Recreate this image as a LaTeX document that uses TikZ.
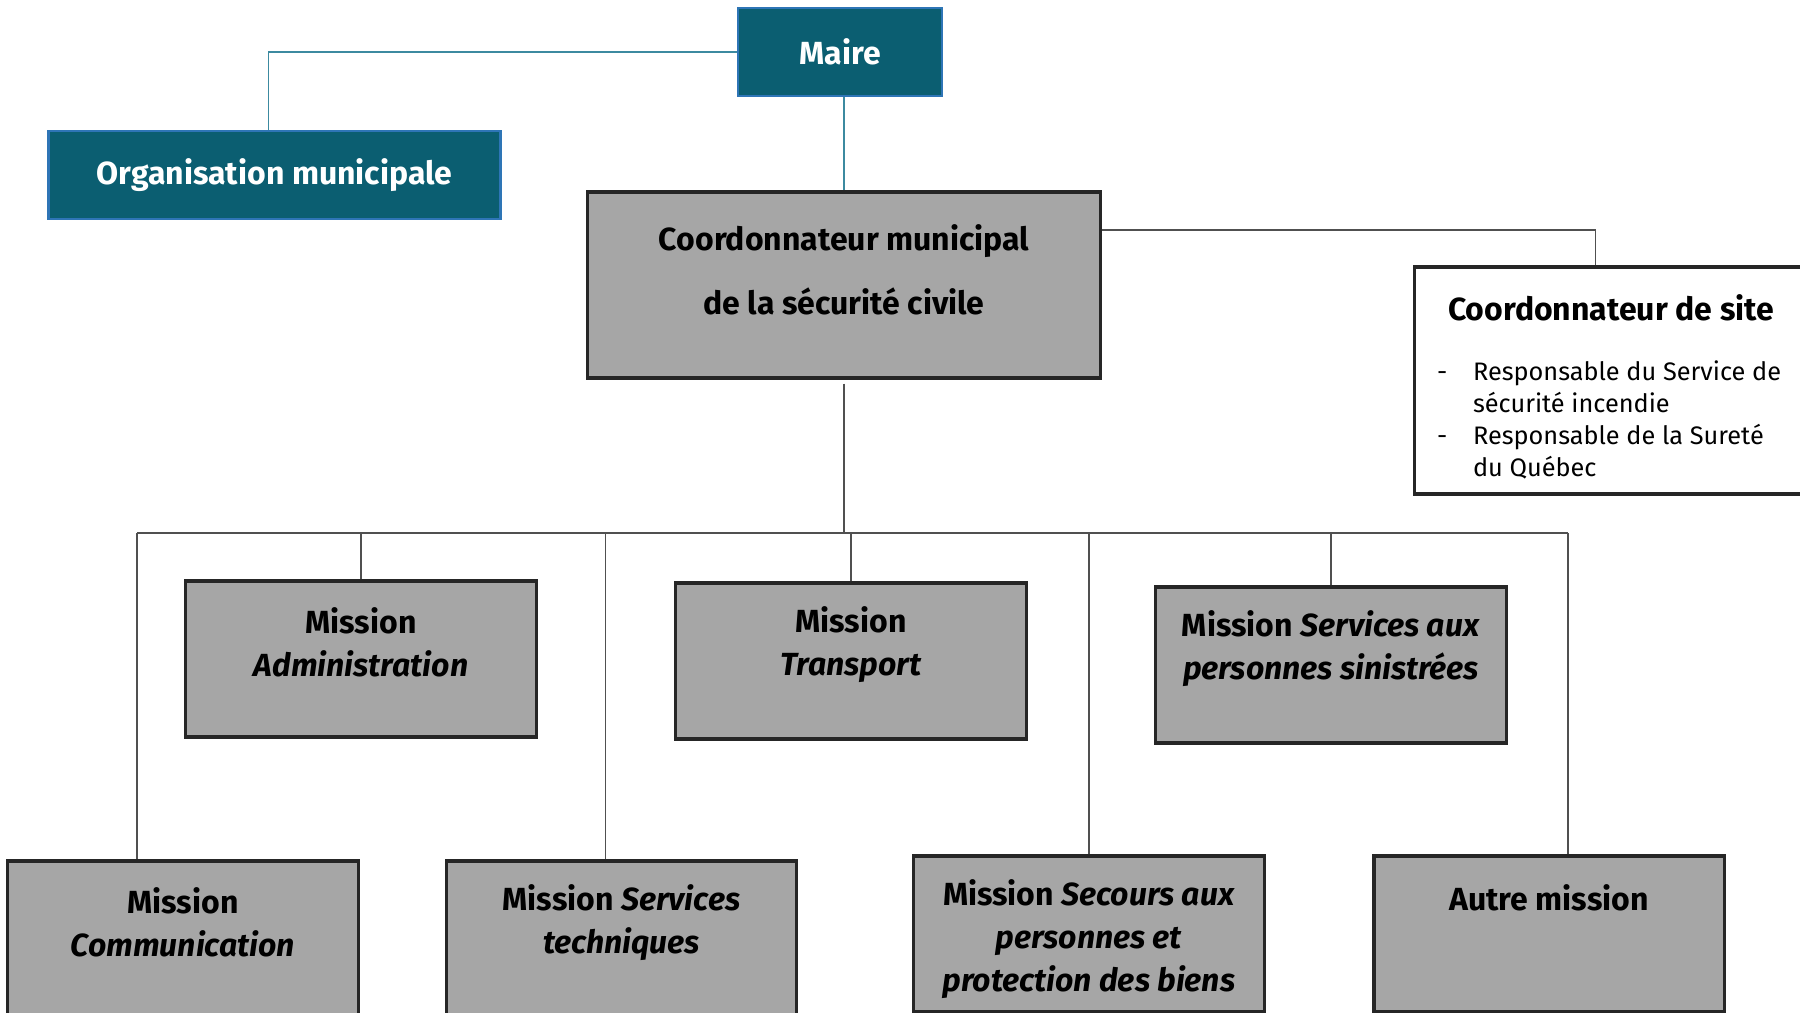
\documentclass[tikz,border=0pt]{standalone}
\usepackage{fontspec}
\setmainfont{Fira Sans}
\usetikzlibrary{positioning}
\definecolor{maireteal}{HTML}{0B5E71}
\definecolor{maireedge}{HTML}{2E75B6}
\definecolor{boxgray}{HTML}{A6A6A6}
\definecolor{linkteal}{HTML}{3C8AA0}
\definecolor{linkgray}{HTML}{505050}

\begin{document}
\begin{tikzpicture}[x=0.01cm,y=-0.01cm,
    tealbox/.style={draw=maireedge, line width=0.8pt, fill=maireteal, text=white,
        font=\bfseries\fontsize{9.1}{12}\selectfont, inner sep=0pt},
    graybox/.style={draw=black!85, line width=0.9pt, fill=boxgray, inner sep=0pt,
        minimum width=3.5cm, minimum height=1.56cm},
    boxtext/.style={font=\bfseries\fontsize{9.1}{12.2}\selectfont, align=center, inner sep=0pt},
    sitetext/.style={font=\fontsize{7.2}{9.1}\selectfont, align=left, inner sep=0pt},
    toplink/.style={draw=linkteal, line width=0.5pt},
    link/.style={draw=linkgray, line width=0.5pt}]
    \useasboundingbox (0,0) rectangle (1800,1013);
    \clip (0,0) rectangle (1800,1013);
    %Top
    \node[tealbox, minimum width=2.04cm, minimum height=0.88cm] (maire) at (840,52) {Maire};
    \node[tealbox, minimum width=4.51cm, minimum height=0.88cm] (org) at (274.5,175) {Organisation municipale};
    \node[graybox, minimum width=5.12cm, minimum height=1.86cm] (cmsc) at (844,285) {};
    \node[boxtext, font=\bfseries\fontsize{9.1}{18.2}\selectfont] (cmsctext) at ([yshift=0.15cm]cmsc.center)
        {Coordonnateur municipal\\de la sécurité civile};
    %Site
    \node[draw=black!85, line width=0.9pt, fill=white, minimum width=4.2cm, minimum height=2.27cm] (site) at (1625,380.5) {};
    \node[boxtext, anchor=west] (sitetitle) at ([xshift=0.34cm,yshift=-0.42cm]site.north west) {Coordonnateur de site};
    \node[sitetext, anchor=north west] (sitelist) at ([xshift=0.23cm,yshift=-0.95cm]site.north west)
        {\makebox[0.36cm][l]{-}Responsable du Service de\\
         \hspace*{0.36cm}sécurité incendie\\
         \makebox[0.36cm][l]{-}Responsable de la Sureté\\
         \hspace*{0.36cm}du Québec};
    %Missions
    \node[graybox] (adm) at (361,659) {};
    \node[graybox] (trans) at (851,661) {};
    \node[graybox] (sinis) at (1331,665) {};
    \node[graybox] (com) at (183,939) {};
    \node[graybox] (tech) at (621.5,939) {};
    \node[graybox] (secours) at (1089,934) {};
    \node[graybox] (autre) at (1549,934) {};
    \node[boxtext] (admtext) at ([yshift=-0.63cm]adm.north) {Mission\\\textit{Administration}};
    \node[boxtext] (transtext) at ([yshift=-0.63cm]trans.north) {Mission\\\textit{Transport}};
    \node[boxtext] (sinistext) at ([yshift=-0.63cm]sinis.north) {Mission \textit{Services aux}\\\textit{personnes sinistrées}};
    \node[boxtext] (comtext) at ([yshift=-0.63cm]com.north) {Mission\\\textit{Communication}};
    \node[boxtext] (techtext) at ([yshift=-0.63cm]tech.north) {Mission \textit{Services}\\\textit{techniques}};
    \node[boxtext] (secourstext) at ([yshift=-0.85cm]secours.north) {Mission \textit{Secours aux}\\\textit{personnes et}\\\textit{protection des biens}};
    \node[boxtext] (autretext) at ([yshift=-0.43cm]autre.north) {Autre mission};
    %Links
    \draw[toplink] (maire.west) -| ([xshift=-0.06cm]org.north);
    \draw[toplink] (maire.south -| cmsc.north) -- (cmsc.north);
    \draw[link] ([yshift=-0.4cm]cmsc.north east) -| ([xshift=1.82cm]site.north west);
    \coordinate (busL) at (137,533);
    \coordinate (busR) at (1568,533);
    \draw[link] ([yshift=-0.04cm]cmsc.south) -- (cmsc.south |- busL);
    \draw[link] (busL) -- (busR);
    \draw[link] (busL) -- (busL |- com.north);
    \draw[link] (adm.north) -- (adm.north |- busL);
    \draw[link] ([xshift=-0.16cm]tech.north) -- ([xshift=-0.16cm]tech.north |- busL);
    \draw[link] (trans.north) -- (trans.north |- busL);
    \draw[link] (secours.north) -- (secours.north |- busL);
    \draw[link] (sinis.north) -- (sinis.north |- busL);
    \draw[link] (busR) -- (busR |- autre.north);
\end{tikzpicture}
\end{document}
